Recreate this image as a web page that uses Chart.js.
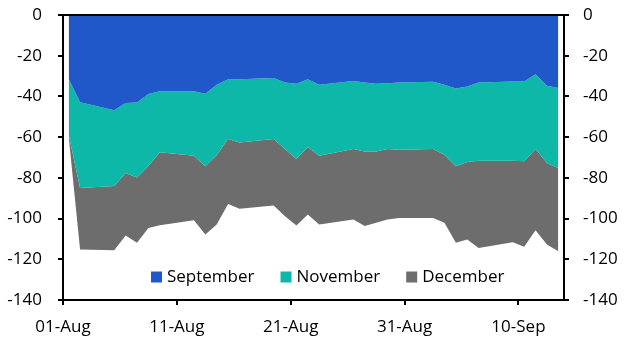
<!DOCTYPE html>
<html>
<head>
<meta charset="utf-8">
<script src="https://cdn.jsdelivr.net/npm/chart.js@4.4.1/dist/chart.umd.min.js"></script>
<style>
  html, body { margin: 0; padding: 0; background: #fff; }
  #wrap { width: 633px; height: 351px; position: relative; }
</style>
</head>
<body>
<div id="wrap"><canvas id="chart"></canvas></div>
<script>
// business days, Aug-Sep 2024
const dates = [
    '2024-08-01', '2024-08-02', '2024-08-05', '2024-08-06', '2024-08-07', '2024-08-08', '2024-08-09',
    '2024-08-12', '2024-08-13', '2024-08-14', '2024-08-15', '2024-08-16', '2024-08-19', '2024-08-20',
    '2024-08-21', '2024-08-22', '2024-08-23', '2024-08-26', '2024-08-27', '2024-08-28', '2024-08-29',
    '2024-08-30', '2024-09-02', '2024-09-03', '2024-09-04', '2024-09-05', '2024-09-06', '2024-09-09',
    '2024-09-10', '2024-09-11', '2024-09-12', '2024-09-13'
];
const september = [
    -31.4, -42.8, -46.8, -43.2, -43.0, -38.8, -37.4, -37.4, -38.7, -34.3, -31.5, -31.5, -31.0, -33.2,
    -33.8, -31.5, -34.3, -32.4, -33.2, -33.8, -33.5, -33.2, -32.8, -34.3, -36.1, -35.1, -33.2, -32.7,
    -32.7, -29.1, -34.8, -35.9
];
const november = [
    -27.4, -42.2, -37.2, -34.4, -36.8, -35.4, -30.0, -31.8, -35.6, -34.5, -29.4, -31.1, -29.9, -32.6,
    -36.9, -33.4, -34.8, -33.4, -33.8, -33.2, -32.3, -33.0, -33.0, -34.3, -38.2, -37.1, -38.4, -38.9,
    -39.2, -36.7, -37.9, -39.3
];
const december = [
    -1.0, -30.2, -31.5, -30.7, -32.1, -30.4, -35.9, -31.6, -33.5, -34.1, -31.9, -32.6, -32.7, -33.1,
    -32.7, -33.1, -33.8, -34.7, -36.6, -35.1, -34.7, -33.5, -33.9, -33.5, -37.6, -38.1, -42.8, -40.0,
    -42.0, -39.9, -40.0, -40.8
];
const xTickLabels = ['01-Aug', '11-Aug', '21-Aug', '31-Aug', '10-Sep'];
const xTickDays = [0, 10, 20, 30, 40];
const axisDays = 44; // 01-Aug .. 13-Sep

const seriesNames = ['September', 'November', 'December'];
const seriesColors = ['#2057C9', '#0DB8A9', '#6D6D6D'];

const FONT = '"Open Sans", "Liberation Sans", sans-serif';
const FONT_SIZE = 17;
const dayMs = 864e5;
const start = Date.parse(dates[0]);

// each day is a cell, points sit in the middle
function toPoints(values) {
    return values.map((v, i) => ({ x: (Date.parse(dates[i]) - start) / dayMs + 0.5, y: v }));
}

const frame = {
    id: 'frame',
    afterDatasetsDraw(chart) {
        const { ctx, chartArea: a } = chart;
        ctx.save();
        ctx.strokeStyle = '#000';
        ctx.lineWidth = 2;
        ctx.strokeRect(a.left, a.top, a.right - a.left, a.bottom - a.top);
        ctx.restore();
    }
};

const innerLegend = {
    id: 'innerLegend',
    afterDraw(chart) {
        const ctx = chart.ctx;
        ctx.save();
        ctx.font = FONT_SIZE + 'px ' + FONT;
        ctx.textBaseline = 'middle';
        let x = 151;
        const y = 277;
        seriesNames.forEach((name, i) => {
            ctx.fillStyle = seriesColors[i];
            ctx.fillRect(x, y - 5.5, 11, 11);
            ctx.fillStyle = '#000';
            ctx.fillText(name, x + 16, y);
            x += 16 + ctx.measureText(name).width + 26;
        });
        ctx.restore();
    }
};

const yTicks = {
    font: { family: FONT, size: FONT_SIZE },
    color: '#000',
    stepSize: 20
};

// fixed side width, no extra vertical padding from the labels
function fitSide(width) {
    return (scale) => {
        scale.width = width;
        scale.paddingTop = 0;
        scale.paddingBottom = 0;
    };
}

new Chart(document.getElementById('chart').getContext('2d'), {
    type: 'line',
    data: {
        datasets: [
            { label: seriesNames[0], data: toPoints(september), fill: 'origin' },
            { label: seriesNames[1], data: toPoints(november), fill: '-1' },
            { label: seriesNames[2], data: toPoints(december), fill: '-1' }
        ].map((ds, i) => Object.assign(ds, {
            backgroundColor: seriesColors[i],
            borderColor: seriesColors[i],
            borderWidth: 0,
            pointRadius: 0,
            tension: 0
        }))
    },
    options: {
        responsive: true,
        maintainAspectRatio: false,
        animation: false,
        layout: { padding: { top: 15, left: 0, right: 0, bottom: 0 } },
        plugins: {
            legend: { display: false },
            tooltip: { enabled: false }
        },
        scales: {
            x: {
                type: 'linear',
                min: 0,
                max: axisDays,
                afterBuildTicks: (scale) => {
                    scale.ticks = xTickDays.map(v => ({ value: v }));
                },
                afterFit: (scale) => {
                    scale.height = 51;
                    scale.paddingLeft = 0;
                    scale.paddingRight = 0;
                },
                ticks: {
                    font: { family: FONT, size: FONT_SIZE },
                    color: '#000',
                    padding: 12,
                    maxRotation: 0,
                    autoSkip: false,
                    callback: (value) => xTickLabels[xTickDays.indexOf(value)]
                },
                grid: { drawOnChartArea: false, tickLength: 5, color: '#000', lineWidth: 2 },
                border: { display: false }
            },
            y: {
                stacked: true,
                min: -140,
                max: 0,
                afterFit: fitSide(63),
                ticks: Object.assign({ padding: 16 }, yTicks),
                grid: { drawOnChartArea: false, tickLength: 5, color: '#000', lineWidth: 2 },
                border: { display: false }
            },
            y2: {
                position: 'right',
                min: -140,
                max: 0,
                afterFit: fitSide(69),
                ticks: Object.assign({ padding: 14 }, yTicks),
                grid: { drawOnChartArea: false, tickLength: 5, color: '#000', lineWidth: 2 },
                border: { display: false }
            }
        }
    },
    plugins: [frame, innerLegend]
});
</script>
</body>
</html>
